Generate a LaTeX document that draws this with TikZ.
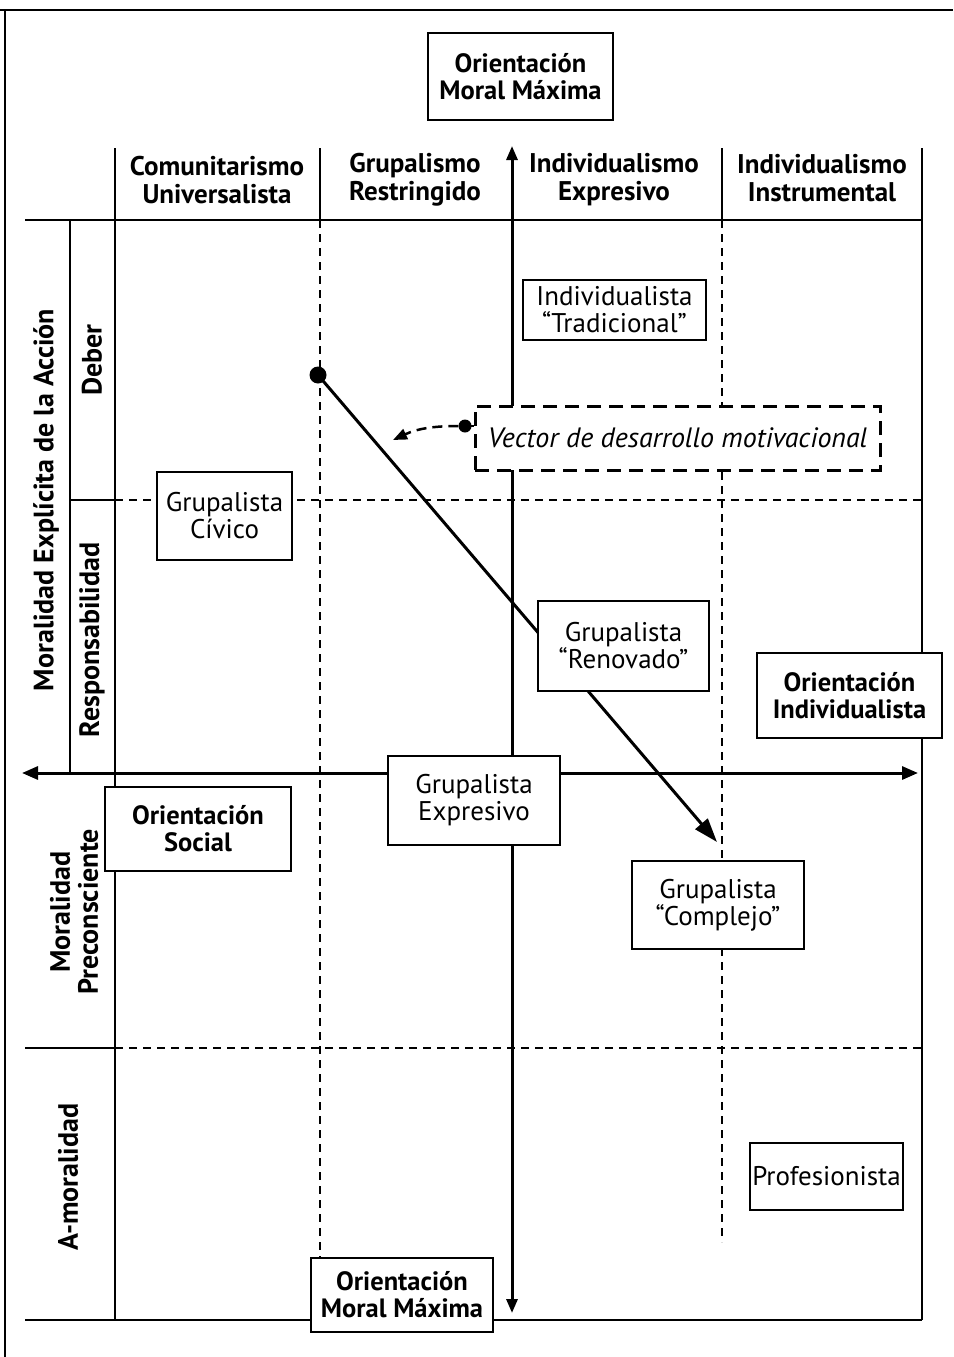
\documentclass[tikz,border=0pt]{standalone}
\usepackage{fontspec}
\setmainfont{PT Sans}
\usetikzlibrary{arrows.meta}
\begin{document}
\begin{tikzpicture}[x=1pt,y=-1pt,
 frame/.style={line width=1.2pt},
 grid/.style={line width=2pt},
 gdash/.style={line width=1.6pt,dash pattern=on 8pt off 6pt},
 axisline/.style={line width=3pt},
 sz/.style 2 args={minimum width=#1pt,minimum height=#2pt},
 box/.style={draw,line width=2pt,fill=white,align=center,inner sep=0pt,font=\fontsize{27}{27}\selectfont},
 bbox/.style={box,font=\bfseries\fontsize{26.5}{27}\selectfont},
 vbox/.style={draw,line width=3pt,dash pattern=on 14pt off 8pt,fill=white,inner sep=0pt,font=\itshape\fontsize{28}{28}\selectfont},
 hdr/.style={align=center,font=\bfseries\fontsize{27}{28}\selectfont},
 side/.style={rotate=90,align=center,font=\bfseries\fontsize{28}{28}\selectfont},
 dot/.style={circle,fill=black,inner sep=0pt,minimum size=#1pt},
]
\useasboundingbox (0,0) rectangle (953,1357);
% page frame
\draw[frame] (0,10) -- (953,10);
\draw[frame] (5,10) -- (5,1357);

% header verticals and grid
\draw[grid] (115,148) -- (115,1320);
\draw[grid] (320,148) -- (320,220);
\draw[gdash] (320,220) -- (320,1258);
\draw[grid] (722,148) -- (722,220);
\draw[gdash] (722,220) -- (722,1242);
\draw[grid] (922,148) -- (922,1320);
\draw[grid] (70,220) -- (70,773);
\draw[grid] (25,220) -- (922,220);
\draw[grid] (70,500) -- (115,500);
\draw[gdash] (115,500) -- (922,500);
\draw[grid] (25,1048) -- (115,1048);
\draw[gdash] (115,1048) -- (922,1048);
\draw[grid] (25,1320) -- (922,1320);

% axes
\coordinate (axL) at (22,773);
\coordinate (axR) at (918,773);
\coordinate (axT) at (512,146);
\coordinate (axB) at (512,1313);
\draw[axisline,{Triangle[length=16pt,width=13pt]}-{Triangle[length=16pt,width=13pt]}] (axL) -- (axR);
\draw[axisline,{Triangle[length=14pt,width=11pt]}-{Triangle[length=14pt,width=11pt]}] (axT) -- (axB);

% headers
\node[hdr] (h1) at (217,180) {Comunitarismo\\Universalista};
\node[hdr] (h2) at (415,180) {Grupalismo\\Restringido};
\node[hdr] (h3) at (614,180) {Individualismo\\Expresivo};
\node[hdr] (h4) at (822,178) {Individualismo\\Instrumental};

% side labels
\node[side] (s1) at (46,500) {Moralidad Explícita de la Acción};
\node[side] (s2) at (92,360) {Deber};
\node[side] (s3) at (92,640) {Responsabilidad};
\node[side] (s4) at (74,912) {Moralidad\\Preconsciente};
\node[side] (s5) at (68,1177) {A-moralidad};

% development vector
\node[dot=17] (d1) at (318,375) {};
\coordinate (vt) at (717,842);
\draw[line width=3pt,-{Triangle[length=24pt,width=16pt]}] (d1.center) -- (vt);

% boxes
\node[bbox,sz={185}{87}] (topO) at (520.5,76.5) {Orientación\\Moral Máxima};
\node[box,sz={183}{60}] (trad) at (614.5,310) {Individualista\\“Tradicional”};
\node[vbox,sz={405}{64}] (vec) at (677.5,438) {Vector de desarrollo motivacional};
\node[box,sz={135}{88}] (civ) at (224.5,516) {Grupalista\\Cívico};
\node[box,sz={171}{90}] (ren) at (623.5,646) {Grupalista\\“Renovado”};
\node[bbox,sz={185}{85}] (oind) at (849.5,695.5) {Orientación\\Individualista};
\node[box,sz={172}{89}] (exp) at (474,800.5) {Grupalista\\Expresivo};
\node[bbox,sz={186}{84}] (osoc) at (198,829) {Orientación\\Social};
\node[box,sz={172}{88}] (comp) at (718,905) {Grupalista\\“Complejo”};
\node[box,sz={153}{67}] (prof) at (826.5,1176.5) {Profesionista};
\node[bbox,sz={182}{74}] (botO) at (402,1295) {Orientación\\Moral Máxima};

% dashed turning arrow
\node[dot=13] (d2) at (465,426) {};
\coordinate (da) at (393,440);
\draw[line width=2.5pt] (d2.center) -- (vec.west |- d2.center);
\draw[line width=2.5pt,dash pattern=on 10pt off 6pt,-{Triangle[length=14pt,width=11pt]}] (d2.west) to[out=180,in=25] (da);
\end{tikzpicture}
\end{document}
